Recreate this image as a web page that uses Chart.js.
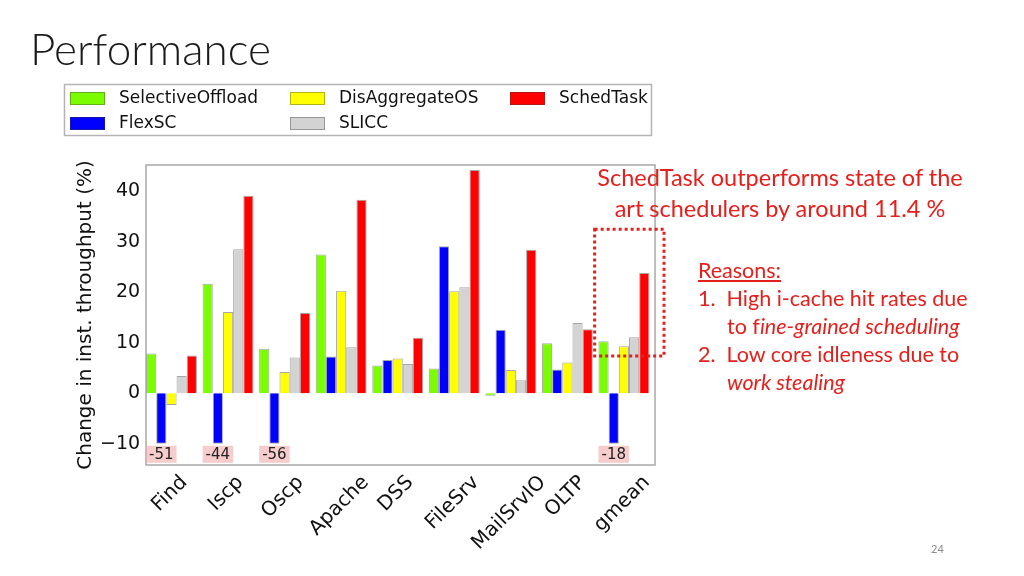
<!DOCTYPE html>
<html>
<head>
<meta charset="utf-8">
<script src="https://cdn.jsdelivr.net/npm/chart.js@4/dist/chart.umd.min.js"></script>
<style>
  html, body { margin: 0; padding: 0; background: #fff; }
  #slide { position: relative; width: 1024px; height: 576px; overflow: hidden; background: #fff; }
  #chart { position: absolute; left: 0; top: 0; }
  .txt { position: absolute; font-family: Lato, "Open Sans", sans-serif; white-space: nowrap; }
  #title { left: 30px; top: 22px; font-size: 44px; color: #1a1a1a; font-weight: 300; }
  #headline { left: 530px; top: 162px; width: 500px; text-align: center; font-size: 23.5px; line-height: 31px; color: #e4201c; }
  #reasons { left: 698px; top: 256px; font-size: 21.5px; line-height: 28px; color: #e4201c; }
  #reasons .ind { padding-left: 29px; }
  #pnum { left: 931px; top: 542px; font-size: 11px; color: #8a8a8a; }
</style>
</head>
<body>
<div id="slide">
  <canvas id="chart" width="1024" height="576"></canvas>
  <div id="title" class="txt">Performance</div>
  <div id="headline" class="txt">SchedTask outperforms state of the<br>art schedulers by around 11.4 %</div>
  <div id="reasons" class="txt">
    <div><u>Reasons:</u></div>
    <div>1.&nbsp;&nbsp;High i-cache hit rates due</div>
    <div class="ind">to f<i>ine-grained scheduling</i></div>
    <div>2.&nbsp;&nbsp;Low core idleness due to</div>
    <div class="ind"><i>work stealing</i></div>
  </div>
  <div id="pnum" class="txt">24</div>
</div>
<script>
// workloads on the x axis
var workloads = ['Find', 'Iscp', 'Oscp', 'Apache', 'DSS', 'FileSrv', 'MailSrvIO', 'OLTP', 'gmean'];

// change in instruction throughput (%) per scheduler
var selectiveOffload = [7.9, 21.7, 8.8, 27.5, 5.5, 4.9, -0.5, 9.9, 10.3];
var flexSC           = [-51, -44, -56, 7.3, 6.6, 29.1, 12.6, 4.7, -18];
var disAggregateOS   = [-2.3, 16.1, 4.2, 20.3, 6.9, 20.2, 4.6, 6.1, 9.3];
var slicc            = [3.4, 28.5, 7.1, 9.1, 5.8, 21.0, 2.6, 13.9, 11.1];
var schedTask        = [7.5, 39.1, 15.9, 38.3, 11.0, 44.2, 28.4, 12.7, 23.8];

var yTicks = [-10, 0, 10, 20, 30, 40];
var clipFloor = -10;   // bars below this are cut and labelled

var seriesNames  = ['SelectiveOffload', 'FlexSC', 'DisAggregateOS', 'SLICC', 'SchedTask'];
var seriesColors = ['#7cfc00', '#0000ff', '#ffff00', '#d3d3d3', '#ff0000'];
var seriesValues = [selectiveOffload, flexSC, disAggregateOS, slicc, schedTask];

var mplFont = 'DejaVu Sans';
var catPct = 0.9;

var datasets = seriesValues.map(function(vals, i) {
  return {
    label: seriesNames[i],
    data: vals.map(function(v) { return Math.max(v, clipFloor); }),
    rawValues: vals,
    backgroundColor: seriesColors[i],
    borderColor: 'rgba(60,60,60,0.45)',
    borderWidth: 1,
    categoryPercentage: catPct,
    barPercentage: 1.0
  };
});

// groups sit flush with the left of the frame in the original plot,
// so the frame is drawn shifted right by the half gap
function frameShift(chart) {
  var a = chart.chartArea;
  return (a.right - a.left) / workloads.length * (1 - catPct) / 2;
}

// legend laid out column-first like the matplotlib one
var legendBox = {
  id: 'legendBox',
  afterDraw: function(chart) {
    var c = chart.ctx;
    c.save();
    c.fillStyle = '#fff';
    c.fillRect(64, 84, 588, 52);
    c.strokeStyle = '#b4b4b4';
    c.lineWidth = 1.5;
    c.strokeRect(64.5, 84.5, 587, 51);
    var colX = [70, 290, 510];
    var rowY = [98, 123];
    c.font = '17px "' + mplFont + '"';
    c.textBaseline = 'middle';
    chart.data.datasets.forEach(function(ds, i) {
      var x = colX[Math.floor(i / 2)];
      var y = rowY[i % 2];
      c.fillStyle = ds.backgroundColor;
      c.fillRect(x, y - 6, 35, 13);
      c.strokeStyle = 'rgba(60,60,60,0.4)';
      c.lineWidth = 1;
      c.strokeRect(x + 0.5, y - 5.5, 34, 12);
      c.fillStyle = '#111';
      c.fillText(ds.label, x + 49, y + 1);
    });
    c.restore();
  }
};

// frame, rotated x labels, clipped-bar labels, dotted highlight box
var extras = {
  id: 'extras',
  afterDatasetsDraw: function(chart) {
    var c = chart.ctx;
    var a = chart.chartArea;
    var sh = frameShift(chart);
    var xs = chart.scales.x, ys = chart.scales.y;
    c.save();
    c.strokeStyle = '#a8a8a8';
    c.lineWidth = 1.5;
    c.strokeRect(a.left + sh, a.top, a.right - a.left, a.bottom - a.top);

    // x labels, centred under the tick like matplotlib's ha='center'
    var fs = 20;
    c.font = fs + 'px "' + mplFont + '"';
    c.fillStyle = '#111';
    c.textAlign = 'center';
    c.textBaseline = 'alphabetic';
    workloads.forEach(function(lab, i) {
      var w = c.measureText(lab).width;
      var h = fs * 1.164;
      var cx = xs.getPixelForValue(i) - 3;
      var cy = a.bottom + 5 + (w + h) * 0.3536;
      c.save();
      c.translate(cx, cy);
      c.rotate(-Math.PI / 4);
      c.fillText(lab, 0, fs * 0.346);
      c.restore();
    });

    c.font = '15px "' + mplFont + '"';
    c.textBaseline = 'middle';
    chart.data.datasets.forEach(function(ds, di) {
      var meta = chart.getDatasetMeta(di);
      ds.rawValues.forEach(function(v, i) {
        if (v >= clipFloor) return;
        var bar = meta.data[i];
        var txt = String(v);
        var w = c.measureText(txt).width + 6;
        var top = Math.max(bar.y, bar.base) + 2;
        c.fillStyle = 'rgba(240,170,170,0.6)';
        c.fillRect(bar.x - w / 2, top, w, 17);
        c.fillStyle = '#222';
        c.fillText(txt, bar.x, top + 9);
      });
    });

    var catW = (a.right - a.left) / workloads.length;
    var x0 = xs.getPixelForValue(workloads.length - 1) - catW / 2 - 1;
    var x1 = a.right + sh + 9;
    var y0 = ys.getPixelForValue(32.5);
    var y1 = ys.getPixelForValue(7.4);
    c.strokeStyle = '#e4201c';
    c.lineWidth = 3;
    c.setLineDash([3, 3]);
    c.strokeRect(x0, y0, x1 - x0, y1 - y0);
    c.restore();
  }
};

var chart = new Chart(document.getElementById('chart'), {
  type: 'bar',
  data: { labels: workloads, datasets: datasets },
  plugins: [legendBox, extras],
  options: {
    responsive: false,
    animation: false,
    layout: { padding: { left: 74, top: 165, right: 371.8, bottom: 0 } },
    plugins: { legend: { display: false }, tooltip: { enabled: false } },
    scales: {
      x: {
        grid: { display: false, drawTicks: false },
        border: { display: false },
        ticks: { display: false },
        afterFit: function(s) { s.height = 111; }
      },
      y: {
        min: -14.2, max: 45.2,
        grid: { display: false, drawTicks: false },
        border: { display: false },
        afterBuildTicks: function(s) { s.ticks = yTicks.map(function(v) { return { value: v }; }); },
        afterFit: function(s) { s.width = 69.2; },
        ticks: {
          padding: 3, color: '#111', font: { family: mplFont, size: 19 },
          callback: function(v) { return String(v).replace('-', '\u2212'); }
        },
        title: {
          display: true, text: 'Change in inst. throughput (%)',
          color: '#111', font: { family: mplFont, size: 20 }, padding: 0
        }
      }
    }
  }
});
</script>
</body>
</html>
